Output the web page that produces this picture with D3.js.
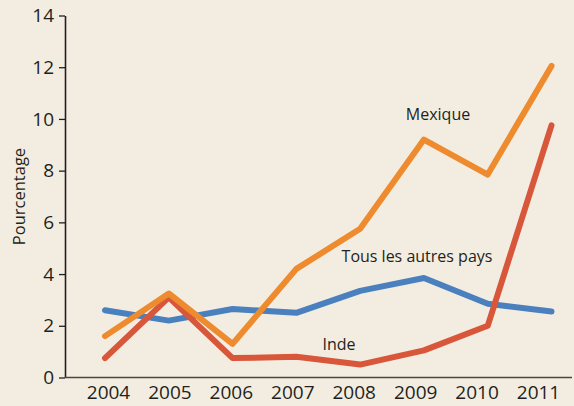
<!DOCTYPE html>
<html lang="fr">
<head>
  <meta charset="UTF-8">
  <title>Pourcentage</title>
  <style>
    html, body { margin: 0; padding: 0; background: #f3ede1; }
    #main { width: 574px; height: 406px; }
    text { font-family: "Open Sans", sans-serif; fill: #231f20; }
  </style>
</head>
<body>
  <div id="main"></div>
  <script src="https://d3js.org/d3.v7.min.js"></script>
  <script>
    // données
    const years = ['2004', '2005', '2006', '2007', '2008', '2009', '2010', '2011']
    const mexique = [1.6, 3.25, 1.3, 4.2, 5.75, 9.2, 7.85, 12.05]
    const inde = [0.75, 3.1, 0.75, 0.8, 0.5, 1.05, 2.0, 9.75]
    const autres = [2.6, 2.2, 2.65, 2.5, 3.35, 3.85, 2.85, 2.55]
    const yTicks = [0, 2, 4, 6, 8, 10, 12, 14]

    const series = [
      { name: 'Tous les autres pays', values: autres, color: '#4a80bd', lx: 417, ly: 262 },
      { name: 'Inde', values: inde, color: '#d8573a', lx: 339, ly: 350 },
      { name: 'Mexique', values: mexique, color: '#ee8b2e', lx: 438, ly: 120 }
    ]

    const [width, height] = [574, 406]
    const svg = d3.select('#main').append('svg')
      .attr('width', width)
      .attr('height', height)

    svg.append('rect').attr('width', width).attr('height', height).attr('fill', '#f3ede1')

    const xScale = d3.scalePoint().domain(years).range([105, 551.5])
    // les étiquettes de l'axe x ne sont pas tout à fait alignées sur les points
    const xLabelScale = d3.scalePoint().domain(years).range([108, 538])
    const yScale = d3.scaleLinear().domain([0, 14]).range([377.5, 15.5])

    // axe y
    const yAxis = svg.append('g')
      .attr('transform', 'translate(65,0)')
      .call(d3.axisLeft(yScale).tickValues(yTicks).tickSize(6).tickPadding(5).tickSizeOuter(0))
    yAxis.select('.domain').attr('stroke', '#231f20').attr('stroke-width', 1.6)
    yAxis.selectAll('.tick line').attr('stroke', '#231f20').attr('stroke-width', 1.3)
    yAxis.selectAll('.tick text').style('font-size', '19px').attr('fill', '#231f20')

    // axe x
    const xAxis = svg.append('g')
      .attr('transform', `translate(0,${yScale(0)})`)
      .call(d3.axisBottom(xLabelScale).tickSize(0).tickPadding(8))
    xAxis.select('.domain').remove()
    xAxis.selectAll('.tick text').style('font-size', '19px').attr('fill', '#231f20')

    svg.append('line')
      .attr('x1', 65).attr('x2', 572)
      .attr('y1', yScale(0)).attr('y2', yScale(0))
      .attr('stroke', '#4a4646').attr('stroke-width', 1.6)

    svg.append('text')
      .attr('transform', `translate(25,${yScale(7)}) rotate(-90)`)
      .attr('text-anchor', 'middle')
      .style('font-size', '16.5px')
      .text('Pourcentage')

    const line = d3.line()
      .x((d, i) => xScale(years[i]))
      .y(d => yScale(d))

    svg.selectAll('path.serie')
      .data(series)
      .join('path')
      .attr('class', 'serie')
      .attr('d', d => line(d.values))
      .attr('fill', 'none')
      .attr('stroke', d => d.color)
      .attr('stroke-width', 6)
      .attr('stroke-linejoin', 'round')
      .attr('stroke-linecap', 'round')

    svg.selectAll('text.label')
      .data(series)
      .join('text')
      .attr('class', 'label')
      .attr('x', d => d.lx)
      .attr('y', d => d.ly)
      .attr('text-anchor', 'middle')
      .style('font-size', '16px')
      .text(d => d.name)
  </script>
</body>
</html>
